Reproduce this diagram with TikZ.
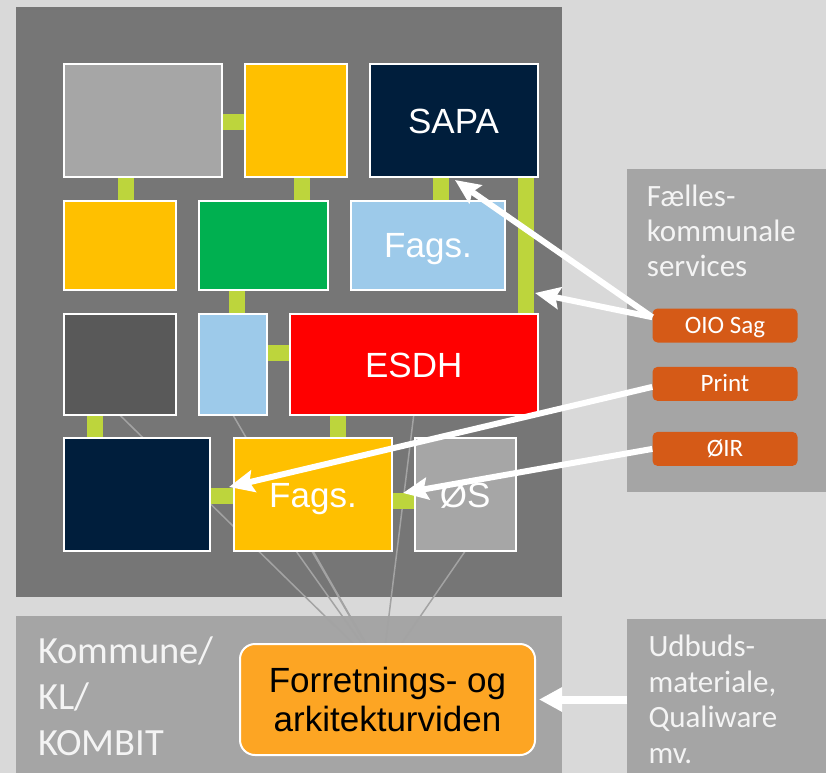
\documentclass[tikz,border=0pt]{standalone}
\usepackage{fontspec}
\setmainfont{Liberation Sans}
\newfontfamily\panelfont{Carlito}
\usetikzlibrary{arrows.meta,calc}
\definecolor{bgc}{HTML}{D9D9D9}
\definecolor{darkpanel}{HTML}{767676}
\definecolor{midpanel}{HTML}{A5A5A5}
\definecolor{lgray}{HTML}{A6A6A6}
\definecolor{ygold}{HTML}{FFC000}
\definecolor{navy}{HTML}{001E3C}
\definecolor{sgreen}{HTML}{00B050}
\definecolor{lblue}{HTML}{9DCAEA}
\definecolor{dgray}{HTML}{595959}
\definecolor{lime}{HTML}{BDD53C}
\definecolor{svc}{HTML}{D55A17}
\definecolor{korange}{HTML}{FDA523}
\definecolor{thinline}{HTML}{A3A3A3}
\definecolor{paneltext}{HTML}{F4F4F4}
\pgfdeclarelayer{bg}
\pgfdeclarelayer{lines}
\pgfsetlayers{bg,lines,main}
\begin{document}
\begin{tikzpicture}[x=1pt,y=-1pt,
  panel/.style={fill=#1, anchor=north west, inner sep=0pt, outer sep=0pt},
  box/.style={draw=white, line width=2pt, anchor=north west, inner sep=0pt, outer sep=0pt,
    font=\fontsize{35}{38}\selectfont, text=white, text height=25pt, text depth=0pt},
  conn/.style={draw=lime, line width=16pt},
  spoke/.style={draw=thinline, line width=1.5pt},
  warrow/.style={draw=white, line width=6pt, -{Stealth[length=25pt,width=22pt,inset=4pt]}},
  warrowbig/.style={draw=white, line width=8pt, -{Triangle[length=23pt,width=23pt]}},
  svcbox/.style={fill=svc, rounded corners=5pt, anchor=north west, minimum width=145pt,
    minimum height=34pt, inner sep=0pt, text=white, text height=16pt, text depth=0pt,
    font=\panelfont\fontsize{25}{30}\selectfont},
  ptext/.style={anchor=base west, align=left, inner sep=0pt, text=paneltext}
]
\useasboundingbox (0,0) rectangle (826,773);
\begin{pgfonlayer}{bg}
  \fill[bgc] (0,0) rectangle (826,773);
  \node[panel=darkpanel, minimum width=546pt, minimum height=590pt] (DarkP) at (16,7) {};
  \node[panel=midpanel, minimum width=546pt, minimum height=157pt] (KomP) at (16,616) {};
  \node[panel=midpanel, minimum width=198.7pt, minimum height=323.3pt] (FaelP) at (627.3,169) {};
  \node[panel=midpanel, minimum width=198.7pt, minimum height=154pt] (UdbP) at (627.3,619) {};
\end{pgfonlayer}

% application boxes
\node[box, fill=lgray,  minimum width=158pt,   minimum height=113pt]  (A) at (63.5,64) {};
\node[box, fill=ygold,  minimum width=102pt,   minimum height=113pt]  (B) at (244.5,64) {};
\node[box, fill=navy,   minimum width=168pt,   minimum height=113pt]  (SAPA) at (369.5,64) {SAPA};
\node[box, fill=ygold,  minimum width=112.5pt, minimum height=89.5pt] (C) at (63.5,200.5) {};
\node[box, fill=sgreen, minimum width=129pt,   minimum height=89.5pt] (D) at (199,200.5) {};
\node[box, fill=lblue,  minimum width=154pt,   minimum height=89.5pt] (E) at (351,200.5) {Fags.};
\node[box, fill=dgray,  minimum width=112.5pt, minimum height=101pt]  (F) at (63.5,314) {};
\node[box, fill=lblue,  minimum width=68pt,    minimum height=101pt]  (G) at (199,314) {};
\node[box, fill=red,    minimum width=247.5pt, minimum height=101pt]  (ESDH) at (290,314) {ESDH};
\node[box, fill=navy,   minimum width=146.5pt, minimum height=113pt]  (H) at (63.5,438) {};
\node[box, fill=ygold,  minimum width=158pt,   minimum height=113pt]  (I) at (234,438) {Fags.};
\node[box, fill=lgray,  minimum width=101.5pt, minimum height=113pt]  (J) at (414.5,438) {ØS};

% knowledge box
\node[draw=white, line width=2pt, fill=korange, rounded corners=15pt, anchor=north west,
  minimum width=295pt, minimum height=111pt, inner sep=0pt, align=center,
  font=\fontsize{35}{38.4}\selectfont, text=black] (K) at (239,643) {Forretnings- og\\arkitekturviden};

\coordinate (P) at (382,672);

\begin{pgfonlayer}{lines}
  % thin spokes
  \draw[spoke] (F.south) -- (P);
  \draw[spoke] (G.south) -- (P);
  \draw[spoke] (ESDH.south) -- (P);
  \draw[spoke] (I.south) -- (P);
  \draw[spoke] ([xshift=-17pt]I.south) -- (P);
  \draw[spoke] (J.south) -- (P);
  % lime connectors
  \draw[conn] ([yshift=-1.5pt]A.east) -- ([yshift=-1.5pt]A.east -| B.west);
  \draw[conn] ([xshift=-16.5pt]A.south) -- ([xshift=-16.5pt]A.south |- C.north);
  \draw[conn] ([xshift=6.5pt]B.south) -- ([xshift=6.5pt]B.south |- D.north);
  \draw[conn] ([xshift=-12.5pt]SAPA.south) -- ([xshift=-12.5pt]SAPA.south |- E.north);
  \draw[conn] ([xshift=72.5pt]SAPA.south) -- ([xshift=72.5pt]SAPA.south |- ESDH.north);
  \draw[conn] ([xshift=-26.5pt]D.south) -- ([xshift=-26.5pt]D.south |- G.north);
  \draw[conn] ([yshift=11.5pt]G.east) -- ([yshift=11.5pt]G.east -| ESDH.west);
  \draw[conn] ([xshift=-24.75pt]F.south) -- ([xshift=-24.75pt]F.south |- H.north);
  \draw[conn] ([xshift=-75.75pt]ESDH.south) -- ([xshift=-75.75pt]ESDH.south |- I.north);
  \draw[conn] ([yshift=-1pt]H.east) -- ([yshift=-1pt]H.east -| I.west);
  \draw[conn] ([yshift=-6.5pt]I.east) -- ([yshift=-6.5pt]I.east -| J.west);
\end{pgfonlayer}

% services
\node[svcbox] (OIO) at (652.3,308.3) {OIO Sag};
\node[svcbox] (Print) at (652.3,366.7) {Print};
\node[svcbox] (OIR) at (652.3,431.7) {ØIR};

% panel texts (anchored at the baseline of the last line)
\node[ptext, font=\panelfont\fontsize{31}{35}\selectfont] (FaelT) at (646.7,276.7) {Fælles-\\kommunale\\services};
\node[ptext, font=\panelfont\fontsize{31}{35.5}\selectfont] (UdbT) at (648.3,763.2) {Udbuds-\\materiale,\\Qualiware\\mv.};
\node[ptext, font=\panelfont\fontsize{38.5}{46}\selectfont] (KomT) at (38,755.3) {Kommune/\\KL/\\KOMBIT};

% white arrows
\coordinate (tipO) at (535,293);
\coordinate (tipPr) at (229,487);
\coordinate (tipOIR) at (403,493);
\draw[warrow] ([yshift=8.3pt]OIO.west) -- ([xshift=1.5pt,yshift=-3pt]SAPA.south);
\draw[warrow] ([yshift=8.3pt]OIO.west) -- (tipO);
\draw[warrow] ([yshift=-3pt]Print.west) -- (tipPr);
\draw[warrow] (OIR.west) -- (tipOIR);
\draw[warrowbig] (UdbP.west |- K.east) -- ([xshift=3pt]K.east);
\end{tikzpicture}
\end{document}
